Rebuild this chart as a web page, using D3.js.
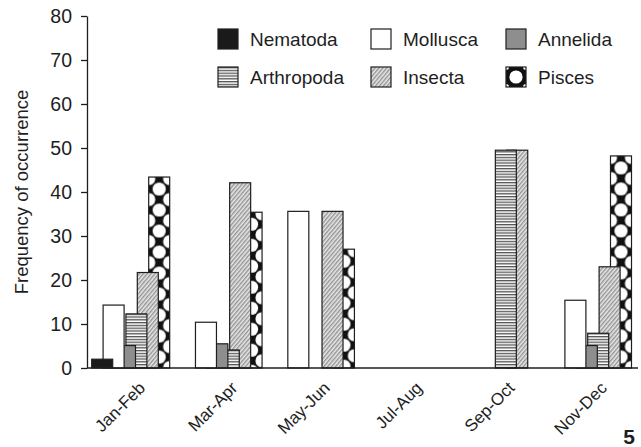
<!DOCTYPE html>
<html>
<head>
<meta charset="utf-8">
<script src="https://cdn.jsdelivr.net/npm/d3@7"></script>
<style>
  html, body { margin: 0; padding: 0; background: #fff; }
  svg { display: block; font-family: "Liberation Sans", Arial, Helvetica, sans-serif; }
</style>
</head>
<body>
<svg id="chart" width="641" height="447"></svg>
<script>
// Two-month sampling periods
const months = ["Jan-Feb", "Mar-Apr", "May-Jun", "Jul-Aug", "Sep-Oct", "Nov-Dec"];
// Prey groups, in legend order
const series = ["Nematoda", "Mollusca", "Annelida", "Arthropoda", "Insecta", "Pisces"];
// Frequency of occurrence per period
const nematoda   = [2.0, 0, 0, 0, 0, 0];
const mollusca   = [14.3, 10.4, 35.6, 0, 0, 15.4];
const annelida   = [5.1, 5.5, 0, 0, 0, 5.1];
const arthropoda = [12.3, 4.1, 0, 0, 49.5, 7.9];
const insecta    = [21.7, 42.1, 35.6, 0, 49.5, 23.0];
const pisces     = [43.4, 35.4, 27.0, 0, 0, 48.2];
const yTicks = [0, 10, 20, 30, 40, 50, 60, 70, 80];
const panelLabel = "5";

const valuesBySeries = [nematoda, mollusca, annelida, arthropoda, insecta, pisces];

const svg = d3.select("#chart");
const ink = "#1e1e1e";
const font = "\"Liberation Sans\", Arial, Helvetica, sans-serif";

const plot = { left: 87, right: 638, top: 16, bottom: 368 };
const barW = 21;

const y = d3.scaleLinear().domain([0, 80]).range([plot.bottom, plot.top]);
const xCenter = d3.scalePoint().domain(months).range([130.7, 592.5]);
// left edge of each series' bar, relative to the period centre (bars overlap)
const slot = d3.scalePoint().domain(series).range([-39, 18]);

const defs = svg.append("defs");

// Arthropoda: horizontal rules
const hl = defs.append("pattern").attr("id", "p-arthropoda")
  .attr("patternUnits", "userSpaceOnUse").attr("width", 6).attr("height", 2.8);
hl.append("rect").attr("width", 6).attr("height", 2.8).attr("fill", "#fff");
hl.append("line").attr("x1", 0).attr("x2", 6).attr("y1", 0.7).attr("y2", 0.7)
  .attr("stroke", "#333").attr("stroke-width", 1.1);

// Insecta: fine diagonal hatching
const hz = defs.append("pattern").attr("id", "p-insecta")
  .attr("patternUnits", "userSpaceOnUse").attr("width", 3).attr("height", 6)
  .attr("patternTransform", "rotate(40)");
hz.append("rect").attr("width", 3).attr("height", 6).attr("fill", "#e8e8e8");
hz.append("line").attr("x1", 0.8).attr("x2", 0.8).attr("y1", 0).attr("y2", 6)
  .attr("stroke", "#5a5a5a").attr("stroke-width", 0.85);

// Pisces: black with white spots (one tile per bar so the spots line up with the bar)
function spotPattern(id, x0, y0, w, h, r, rc) {
  const p = defs.append("pattern").attr("id", id)
    .attr("patternUnits", "userSpaceOnUse")
    .attr("x", x0).attr("y", y0).attr("width", w).attr("height", h);
  p.append("rect").attr("width", w).attr("height", h).attr("fill", "#111");
  p.append("circle").attr("cx", w / 2).attr("cy", h / 2).attr("r", r).attr("fill", "#fff");
  [[0, 0], [w, 0], [0, h], [w, h]].forEach(([cx, cy]) =>
    p.append("circle").attr("cx", cx).attr("cy", cy).attr("r", rc).attr("fill", "#fff"));
  return "url(#" + id + ")";
}

const fills = {
  Nematoda: "#1a1a1a",
  Mollusca: "#ffffff",
  Annelida: "#8e8e8e",
  Arthropoda: "url(#p-arthropoda)",
  Insecta: "url(#p-insecta)"
};

// Flatten to bar records; later series are drawn first so earlier ones sit in front
const bars = [];
months.forEach((m, mi) => {
  series.forEach((s, si) => {
    const v = valuesBySeries[si][mi];
    if (v > 0) bars.push({ month: m, series: s, si, value: v });
  });
});
bars.sort((a, b) => b.si - a.si);

const gBars = svg.append("g");
bars.forEach((d, i) => {
  const x0 = xCenter(d.month) + slot(d.series);
  const yTop = y(d.value);
  let fill = fills[d.series];
  if (d.series === "Pisces") {
    fill = spotPattern("p-pisces-" + i, x0, yTop + 1.5, barW, 21, 6.6, 6.6);
  }
  gBars.append("rect")
    .attr("x", x0).attr("y", yTop)
    .attr("width", barW).attr("height", y(0) - yTop)
    .attr("fill", fill)
    .attr("stroke", ink).attr("stroke-width", 1.2);
});

// Y axis
const yAxis = svg.append("g")
  .attr("transform", `translate(${plot.left},0)`)
  .call(d3.axisLeft(y).tickValues(yTicks).tickSize(6).tickSizeOuter(0).tickPadding(9));
yAxis.select(".domain").attr("stroke", ink).attr("stroke-width", 1.3);
yAxis.selectAll(".tick line").attr("stroke", ink).attr("stroke-width", 1.3);
yAxis.selectAll(".tick text").attr("font-family", font).attr("font-size", 19.5).attr("fill", ink);

// X baseline and period labels
svg.append("line")
  .attr("x1", plot.left).attr("x2", plot.right)
  .attr("y1", y(0)).attr("y2", y(0))
  .attr("stroke", ink).attr("stroke-width", 1.3);

const xAxis = svg.append("g")
  .attr("transform", `translate(0,${y(0)})`)
  .call(d3.axisBottom(xCenter).tickSize(0).tickPadding(0));
xAxis.select(".domain").remove();
xAxis.selectAll(".tick text")
  .attr("font-family", font).attr("font-size", 17).attr("fill", ink)
  .attr("text-anchor", "end")
  .attr("dy", null).attr("y", 0)
  .attr("transform", "translate(15,21) rotate(-45)");

// Y axis title
svg.append("text")
  .attr("transform", `translate(28,${(plot.top + plot.bottom) / 2}) rotate(-90)`)
  .attr("text-anchor", "middle")
  .attr("font-family", font).attr("font-size", 18.5).attr("fill", ink)
  .text("Frequency of occurrence");

// Legend
const legendCols = [218, 371, 506];
const legendRows = [29, 67];
const sw = 20;
series.forEach((s, i) => {
  const lx = legendCols[i % 3];
  const ly = legendRows[Math.floor(i / 3)];
  const g = svg.append("g").attr("transform", `translate(${lx},${ly})`);
  let fill = fills[s];
  // the key tile lives in the group's own coordinates
  if (s === "Pisces") fill = spotPattern("p-pisces-key", 0, 0, sw, sw, 6.6, 3);
  g.append("rect").attr("width", sw).attr("height", sw)
    .attr("fill", fill).attr("stroke", ink).attr("stroke-width", 1.2);
  g.append("text")
    .attr("x", sw + 12).attr("y", sw / 2).attr("dy", "0.35em")
    .attr("font-family", font).attr("font-size", 19).attr("fill", ink)
    .text(s);
});

// Panel number
svg.append("text")
  .attr("x", 635).attr("y", 444).attr("text-anchor", "end")
  .attr("font-family", font).attr("font-size", 21).attr("font-weight", "bold").attr("fill", ink)
  .text(panelLabel);
</script>
</body>
</html>
